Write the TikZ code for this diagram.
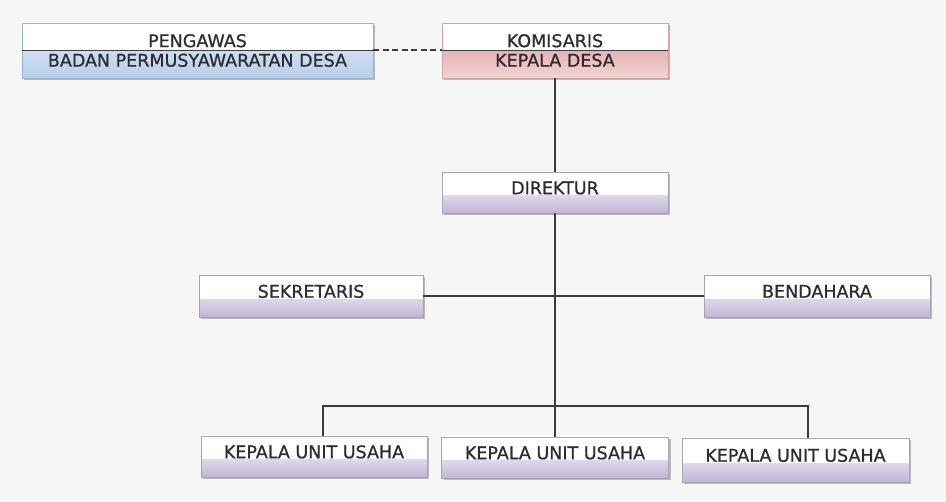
\documentclass[tikz,border=0pt]{standalone}
\usepackage{fontspec}
\setmainfont[FakeBold=0.8]{DejaVu Sans}
\usetikzlibrary{shadows,calc}
\definecolor{bg}{HTML}{F6F6F6}
\definecolor{lavA}{HTML}{E0D8EA}
\definecolor{lavB}{HTML}{C1B4D5}
\definecolor{bluA}{HTML}{CDDDF1}
\definecolor{bluB}{HTML}{B9CEE9}
\definecolor{pinA}{HTML}{E5B3B5}
\definecolor{pinB}{HTML}{F1D3D3}
\definecolor{edgeGray}{HTML}{A8A2B2}
\definecolor{edgeBlue}{HTML}{98B2D2}
\definecolor{edgePink}{HTML}{D6A0A2}
\definecolor{txt}{HTML}{2E2B33}
\definecolor{ln}{HTML}{3C3C3C}
\pgfdeclareverticalshading{lavsh}{100bp}{color(0bp)=(lavB); color(25bp)=(lavB); color(47bp)=(lavA); color(47.5bp)=(white); color(100bp)=(white)}
\pgfdeclareverticalshading{blush}{100bp}{color(0bp)=(bluB); color(25bp)=(bluB); color(50bp)=(bluA); color(50.5bp)=(white); color(100bp)=(white)}
\pgfdeclareverticalshading{pinsh}{100bp}{color(0bp)=(pinB); color(25bp)=(pinB); color(50bp)=(pinA); color(50.5bp)=(white); color(100bp)=(white)}
\tikzset{
  boxbase/.style={rectangle, inner sep=0pt, text=txt, line width=0.8pt,
    font=\fontsize{17.5}{19.5}\selectfont,
    drop shadow={shadow xshift=2pt, shadow yshift=-2pt, fill=black, opacity=0.25}},
  onebox/.style={boxbase, draw=edgeGray, shading=lavsh, text height=12.5pt, text depth=9pt},
  twobox/.style={boxbase, align=center},
  conn/.style={draw=ln, line width=1.3pt}
}
\begin{document}
\begin{tikzpicture}[x=1pt,y=-1pt]
\fill[bg] (0,0) rectangle (946,502);
\useasboundingbox (0,0) rectangle (946,502);
% top row
\node[twobox, draw=edgeBlue, shading=blush, minimum width=351pt, minimum height=55pt] (peng) at (197.5,50.5) {PENGAWAS\\BADAN PERMUSYAWARATAN DESA};
\node[twobox, draw=edgePink, shading=pinsh, minimum width=226pt, minimum height=55pt] (kom) at (555,50.5) {KOMISARIS\\KEPALA DESA};
% middle
\node[onebox, minimum width=226pt, minimum height=41pt] (dir) at (555,192.5) {DIREKTUR};
\node[onebox, minimum width=224pt, minimum height=42pt] (sek) at (311,296) {SEKRETARIS};
\node[onebox, minimum width=226pt, minimum height=42pt] (ben) at (817,296) {BENDAHARA};
% bottom
\node[onebox, minimum width=226pt, minimum height=41pt] (k1) at (314,456.5) {KEPALA UNIT USAHA};
\node[onebox, minimum width=227pt, minimum height=41pt] (k2) at (555,457.5) {KEPALA UNIT USAHA};
\node[onebox, minimum width=227pt, minimum height=44pt] (k3) at (795.5,460) {KEPALA UNIT USAHA};
% connectors
\draw[conn, line width=1pt] (peng.west) -- (peng.east);
\draw[conn, dashed, dash pattern=on 6pt off 3.5pt, line width=2pt] (peng.east) -- (kom.west);
\draw[conn, line width=1pt] (kom.west) -- (kom.east);
\draw[conn] (kom.south) -- (dir.north);
\draw[conn] (dir.south) -- (k2.north);
\draw[conn] (sek.east) -- (ben.west);
\coordinate (bl) at (323,406);
\coordinate (br) at (808,406);
\draw[conn] (k1.north -| bl) -- (bl) -- (br) -- (k3.north -| br);
\end{tikzpicture}
\end{document}
